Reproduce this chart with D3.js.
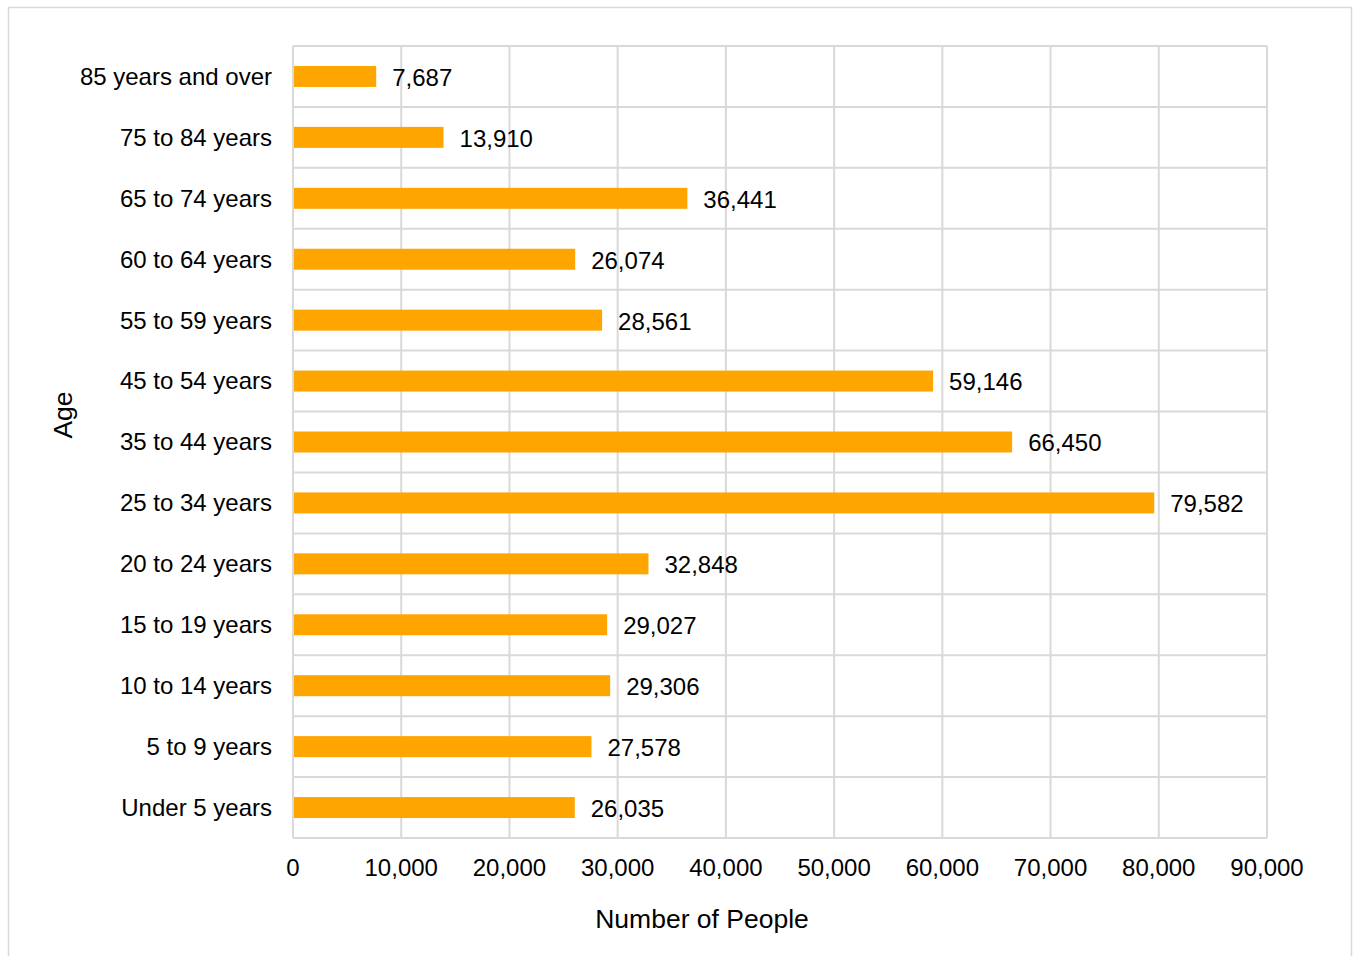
<!DOCTYPE html>
<html><head><meta charset="utf-8">
<script src="https://cdn.jsdelivr.net/npm/d3@7"></script>
<style>body{margin:0;background:#fff}svg text{font-family:"Liberation Sans",Arial,sans-serif;fill:#000}</style>
</head><body>
<svg id="c" width="1353" height="956"></svg>
<script>
const categories = ["85 years and over","75 to 84 years","65 to 74 years","60 to 64 years","55 to 59 years","45 to 54 years","35 to 44 years","25 to 34 years","20 to 24 years","15 to 19 years","10 to 14 years","5 to 9 years","Under 5 years"];
const values = [7687,13910,36441,26074,28561,59146,66450,79582,32848,29027,29306,27578,26035];
const xTicks = [0,10000,20000,30000,40000,50000,60000,70000,80000,90000];
const xTitle = "Number of People";
const yTitle = "Age";

const svg = d3.select("#c");
svg.append("rect").attr("x",8.5).attr("y",7.5).attr("width",1343).attr("height",980)
  .attr("fill","#fff").attr("stroke","#d9d9d9").attr("stroke-width",1.5);

const L=293,R=1267,T=46,B=838;
const x = d3.scaleLinear().domain([0,90000]).range([L,R]);
const y = d3.scaleBand().domain(categories).range([T,B]).paddingInner(0).paddingOuter(0);
const barH = 21;
const grid="#d9d9d9";
const fs = 24;

svg.append("g").selectAll("line").data(xTicks).join("line")
  .attr("x1",d=>x(d)).attr("x2",d=>x(d)).attr("y1",T).attr("y2",B)
  .attr("stroke",grid).attr("stroke-width",2);
const bounds = categories.map(c=>y(c)).concat([B]);
svg.append("g").selectAll("line").data(bounds).join("line")
  .attr("x1",L).attr("x2",R).attr("y1",d=>d).attr("y2",d=>d)
  .attr("stroke",grid).attr("stroke-width",2);

svg.append("g").selectAll("rect").data(categories).join("rect")
  .attr("x",x(0)+1).attr("y",(c)=>y(c)+y.bandwidth()/2-barH/2)
  .attr("width",(c,i)=>x(values[i])-x(0)-1).attr("height",barH)
  .attr("fill","#FFA500");

svg.append("g").selectAll("text").data(categories).join("text")
  .attr("x",(c,i)=>x(values[i])+16).attr("y",c=>y(c)+y.bandwidth()/2+1)
  .attr("dy","0.35em").attr("font-size",fs)
  .text((c,i)=>d3.format(",")(values[i]));

svg.append("g").selectAll("text").data(categories).join("text")
  .attr("x",272).attr("y",c=>y(c)+y.bandwidth()/2).attr("dy","0.35em")
  .attr("text-anchor","end").attr("font-size",fs).text(c=>c);

svg.append("g").selectAll("text").data(xTicks).join("text")
  .attr("x",d=>x(d)).attr("y",876).attr("text-anchor","middle")
  .attr("font-size",fs).text(d=>d3.format(",")(d));

svg.append("text").attr("x",702).attr("y",928).attr("text-anchor","middle")
  .attr("font-size",26.5).text(xTitle);
svg.append("text").attr("transform","translate(72,415) rotate(-90)").attr("text-anchor","middle")
  .attr("font-size",26.5).text(yTitle);
</script>
</body></html>
